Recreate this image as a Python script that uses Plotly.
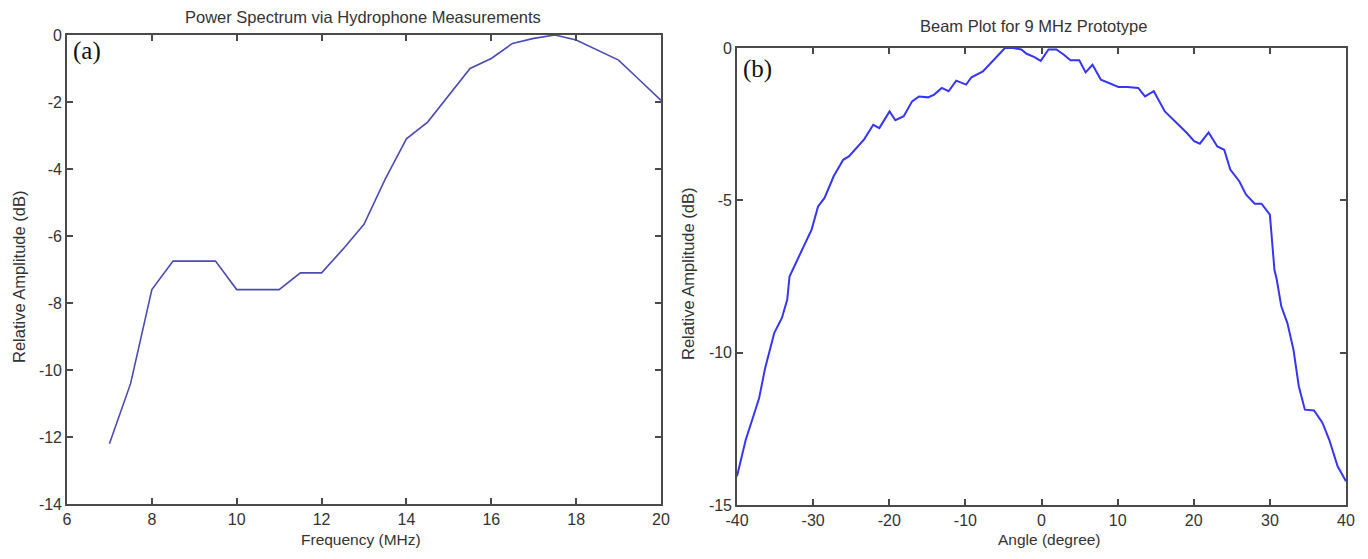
import plotly.graph_objects as go

# page body has an 8px default margin; figure is sized to fit inside it
OFF = 8
FW, FH = 1368 - 2 * OFF, 559 - 2 * OFF

# ---- Panel (a): power spectrum ----
freq_mhz = [7, 7.5, 8, 8.5, 9, 9.5, 10, 10.5, 11, 11.5, 12, 12.5, 13, 13.5,
            14, 14.5, 15, 15.5, 16, 16.5, 17, 17.5, 18, 18.5, 19, 19.5, 20]
power_db = [-12.2, -10.4, -7.6, -6.75, -6.75, -6.75, -7.6, -7.6, -7.6, -7.1,
            -7.1, -6.4, -5.65, -4.3, -3.1, -2.6, -1.8, -1.0, -0.7, -0.25,
            -0.1, 0.0, -0.15, -0.45, -0.75, -1.35, -1.95]

# ---- Panel (b): beam plot ----
angle_deg = [-40, -38.85, -38.0, -37.1, -36.3, -36.0, -35.1, -34.1, -33.4, -33.1,
             -31.7, -30.2, -29.35, -28.5, -27.3, -26.05, -25.3, -23.3, -22.1, -21.3,
             -19.96, -19.2, -18.1, -17.0, -16.1, -14.9, -14.1, -13.1, -12.2, -11.2,
             -9.9, -9.2, -7.7, -6.6, -5.1, -4.8, -3.7, -2.65, -1.96, -0.92,
             -0.1, 0.92, 1.96, 2.94, 3.8, 4.96, 5.8, 6.7, 7.8, 9.3,
             10.1, 11.3, 12.7, 13.6, 14.75, 16.2, 17.6, 19.1, 20.05, 20.8,
             21.95, 23.1, 24.0, 24.8, 26.0, 26.85, 28.0, 28.9, 30.0, 30.3,
             30.6, 30.9, 31.5, 32.3, 33.1, 33.8, 34.6, 35.8, 36.9, 37.8,
             38.9, 40.0]
beam_db = [-14.06, -12.86, -12.2, -11.5, -10.5, -10.2, -9.35, -8.86, -8.26, -7.5,
           -6.73, -5.96, -5.2, -4.92, -4.21, -3.67, -3.56, -3.0, -2.52, -2.63,
           -2.08, -2.37, -2.24, -1.75, -1.59, -1.62, -1.53, -1.31, -1.42, -1.07,
           -1.2, -0.96, -0.77, -0.49, -0.11, 0.0, 0.0, -0.05, -0.19, -0.3,
           -0.42, -0.05, -0.05, -0.22, -0.4, -0.4, -0.8, -0.55, -1.04, -1.2,
           -1.28, -1.28, -1.31, -1.59, -1.42, -2.08, -2.41, -2.79, -3.06, -3.14,
           -2.77, -3.23, -3.34, -3.99, -4.38, -4.81, -5.11, -5.11, -5.47, -6.29,
           -7.28, -7.6, -8.48, -9.03, -9.9, -11.1, -11.87, -11.9, -12.3, -12.86,
           -13.73, -14.22]

xa_ticks = [6, 8, 10, 12, 14, 16, 18, 20]
xa_ticktext = ["6", "8", "10", "12", "14", "16", "18", "20"]
ya_ticks = [0, -2, -4, -6, -8, -10, -12, -14]
ya_ticktext = ["0", "-2", "-4", "-6", "-8", "-10", "-12", "-14"]
xb_ticks = [-40, -30, -20, -10, 0, 10, 20, 30, 40]
xb_ticktext = ["-40", "-30", "-20", "-10", "0", "10", "20", "30", "40"]
yb_ticks = [0, -5, -10, -15]
yb_ticktext = ["0", "-5", "-10", "-15"]


def px(x):
    return (x - OFF) / FW


def py(y):
    return 1 - (y - OFF) / FH


fig = go.Figure()
fig.add_trace(go.Scatter(x=freq_mhz, y=power_db, mode="lines",
                         line=dict(color="#4b4bb0", width=1.6),
                         xaxis="x", yaxis="y", showlegend=False))
fig.add_trace(go.Scatter(x=angle_deg, y=beam_db, mode="lines",
                         line=dict(color="#3535f2", width=2),
                         xaxis="x2", yaxis="y2", showlegend=False))

axis_common = dict(showline=True, linecolor="#4a4a4a", linewidth=1.6,
                   mirror="ticks", ticks="inside", ticklen=6, tickwidth=1.6,
                   tickcolor="#4a4a4a", showgrid=False, zeroline=False,
                   automargin=False,
                   tickfont=dict(family="Liberation Sans, Arial, sans-serif",
                                 size=16, color="#333333"))

fig.update_layout(
    width=FW, height=FH,
    margin=dict(l=0, r=0, t=0, b=0, pad=0),
    paper_bgcolor="white", plot_bgcolor="white",
    xaxis=dict(domain=[px(67), px(661)], range=[6, 20], anchor="y",
               tickmode="array", tickvals=xa_ticks, ticktext=xa_ticktext,
               **axis_common),
    yaxis=dict(domain=[py(504), py(35)], range=[-14, 0], anchor="x",
               tickmode="array", tickvals=ya_ticks, ticktext=ya_ticktext,
               **axis_common),
    xaxis2=dict(domain=[px(737), px(1346)], range=[-40, 40], anchor="y2",
                tickmode="array", tickvals=xb_ticks, ticktext=xb_ticktext,
                **axis_common),
    yaxis2=dict(domain=[py(505), py(48)], range=[-15, 0], anchor="x2",
                tickmode="array", tickvals=yb_ticks, ticktext=yb_ticktext,
                **axis_common),
)

lab_font = dict(family="Liberation Sans, Arial, sans-serif", size=16.5, color="#333333")
xt_font = dict(family="Liberation Sans, Arial, sans-serif", size=15.5, color="#333333")
ann = [
    dict(text="Power Spectrum via Hydrophone Measurements", x=px(363), y=py(17), font=lab_font),
    dict(text="Beam Plot for 9 MHz Prototype", x=px(1033), y=py(26), font=lab_font),
    dict(text="Frequency (MHz)", x=px(361), y=py(539), font=xt_font),
    dict(text="Angle (degree)", x=px(1049), y=py(539), font=xt_font),
    dict(text="Relative Amplitude (dB)", x=px(19), y=py(277), font=lab_font, textangle=-90),
    dict(text="Relative Amplitude (dB)", x=px(688), y=py(274), font=lab_font, textangle=-90),
]
for a in ann:
    fig.add_annotation(xref="paper", yref="paper", showarrow=False,
                       xanchor="center", yanchor="middle", **a)

serif = dict(family="Liberation Serif, Times New Roman, serif", size=25, color="#111111")
fig.add_annotation(xref="paper", yref="paper", x=px(71), y=py(51), text="(a)",
                   showarrow=False, xanchor="left", yanchor="middle", font=serif)
fig.add_annotation(xref="paper", yref="paper", x=px(741), y=py(69), text="(b)",
                   showarrow=False, xanchor="left", yanchor="middle", font=serif)

fig.write_html("out.html")
